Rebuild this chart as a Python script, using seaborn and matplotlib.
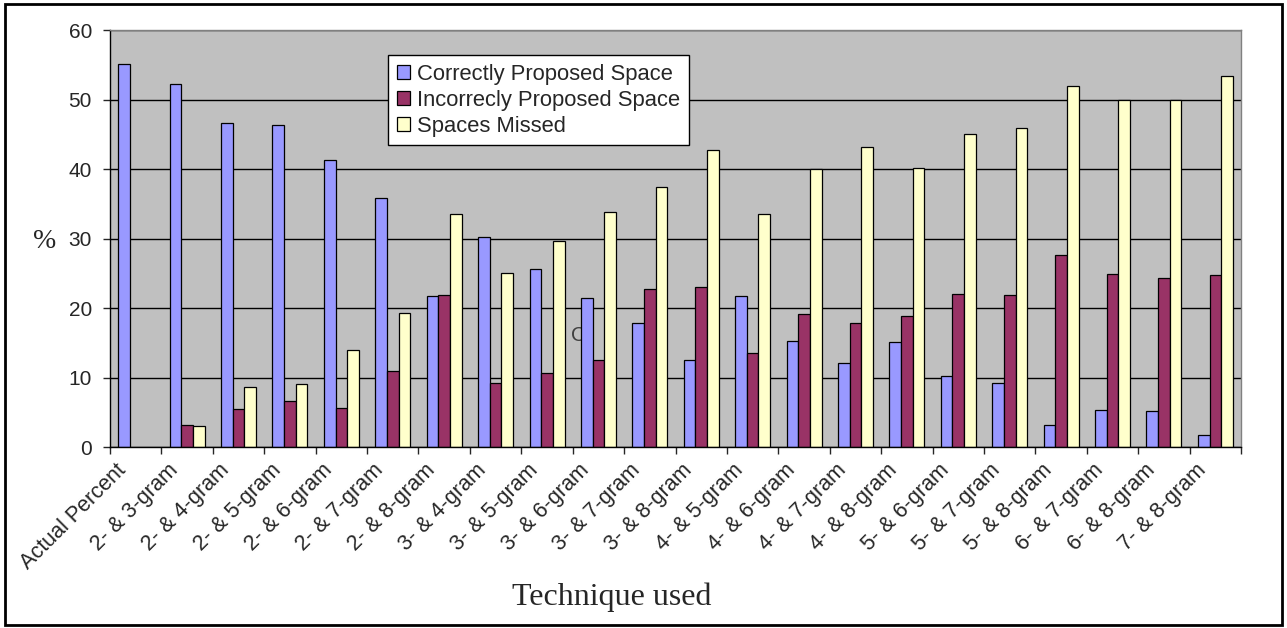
import numpy as np
import pandas as pd
import matplotlib
matplotlib.use("Agg")
import matplotlib.pyplot as plt
import matplotlib.transforms as mtransforms
from matplotlib.patches import Rectangle
import seaborn as sns

techniques = ["Actual Percent", "2- & 3-gram", "2- & 4-gram", "2- & 5-gram", "2- & 6-gram",
              "2- & 7-gram", "2- & 8-gram", "3- & 4-gram", "3- & 5-gram", "3- & 6-gram",
              "3- & 7-gram", "3- & 8-gram", "4- & 5-gram", "4- & 6-gram", "4- & 7-gram",
              "4- & 8-gram", "5- & 6-gram", "5- & 7-gram", "5- & 8-gram", "6- & 7-gram",
              "6- & 8-gram", "7- & 8-gram"]
correct = [55.2, 52.2, 46.6, 46.3, 41.3, 35.9, 21.7, 30.2, 25.7, 21.4, 17.8,
           12.6, 21.7, 15.3, 12.1, 15.1, 10.2, 9.3, 3.2, 5.4, 5.2, 1.8]
incorrect = [np.nan, 3.2, 5.5, 6.7, 5.7, 11.0, 21.9, 9.2, 10.6, 12.6, 22.8,
             23.0, 13.6, 19.2, 17.8, 18.8, 22.0, 21.9, 27.6, 24.9, 24.4, 24.7]
missed = [np.nan, 3.0, 8.6, 9.1, 14.0, 19.3, 33.5, 25.1, 29.6, 33.9, 37.5,
          42.7, 33.5, 40.0, 43.2, 40.2, 45.0, 45.9, 52.0, 49.9, 50.0, 53.4]
series = ["Correctly Proposed Space", "Incorrecly Proposed Space", "Spaces Missed"]
colors = ["#9999FF", "#993366", "#FFFFCC"]

df = pd.concat([
    pd.DataFrame({"technique": techniques, "value": vals, "series": name})
    for name, vals in zip(series, [correct, incorrect, missed])
], ignore_index=True)

sns.set_style("white")
plt.rcParams["font.family"] = ["Liberation Sans", "DejaVu Sans"]
serif = ["Liberation Serif", "DejaVu Serif"]

fig = plt.figure(figsize=(12.87, 6.28), dpi=100)
ax = fig.add_axes([0.0855, 0.288, 0.8788, 0.664])
ax.set_facecolor("#C0C0C0")
ax.set_axisbelow(True)

sns.barplot(data=df, x="technique", y="value", hue="series", order=techniques,
            hue_order=series, palette=colors, saturation=1, width=0.68,
            edgecolor="black", linewidth=0.9, errorbar=None, ax=ax)

ax.set_xlim(-0.5, len(techniques) - 0.5)
ax.set_ylim(0, 60)
ax.set_yticks(range(0, 61, 10))
ax.yaxis.grid(True, color="black", linewidth=1)
ax.tick_params(axis="y", left=True, length=5, width=1, labelsize=15, pad=8)

# category ticks at boundaries, labels centred
ax.set_xticks(range(len(techniques)))
ax.set_xticklabels(techniques, rotation=45, ha="right", va="top", fontsize=15.5)
ax.set_xticks(np.arange(-0.5, len(techniques), 1), minor=True)
ax.tick_params(axis="x", which="major", length=0, pad=9)
ax.tick_params(axis="x", which="minor", bottom=True, length=5, width=1)
shift = mtransforms.ScaledTranslation(-0.05, 0, fig.dpi_scale_trans)
for lab in ax.get_xticklabels():
    lab.set_transform(lab.get_transform() + shift)

for side in ["left", "bottom"]:
    ax.spines[side].set_color("black")
    ax.spines[side].set_linewidth(1)
for side in ["top", "right"]:
    ax.spines[side].set_color("#808080")
    ax.spines[side].set_linewidth(1)

ax.set_ylabel("%", rotation=0, fontsize=20, family=serif, ha="center", va="center")
ax.yaxis.set_label_coords(-0.058, 0.494)
ax.set_xlabel("Technique used", fontsize=23, family=serif, va="center")
ax.xaxis.set_label_coords(0.444, -0.36)

# stray character visible behind a bar in the original
ax.text(8.62, 16.1, "C", fontsize=15, color="#404040", ha="center", va="center", zorder=0.8)

ax.legend(loc="upper left", bbox_to_anchor=(0.246, 0.94), fontsize=15.8, frameon=True,
          fancybox=False, edgecolor="black", framealpha=1, handlelength=0.6,
          handleheight=0.6, handletextpad=0.3, borderpad=0.4, labelspacing=0.22,
          borderaxespad=0)
ax.get_legend().get_frame().set_linewidth(1)

fig.patches.append(Rectangle((0.004, 0.004), 0.992, 0.99, transform=fig.transFigure,
                             fill=False, edgecolor="black", linewidth=2))

fig.savefig("out.png", dpi=100)
